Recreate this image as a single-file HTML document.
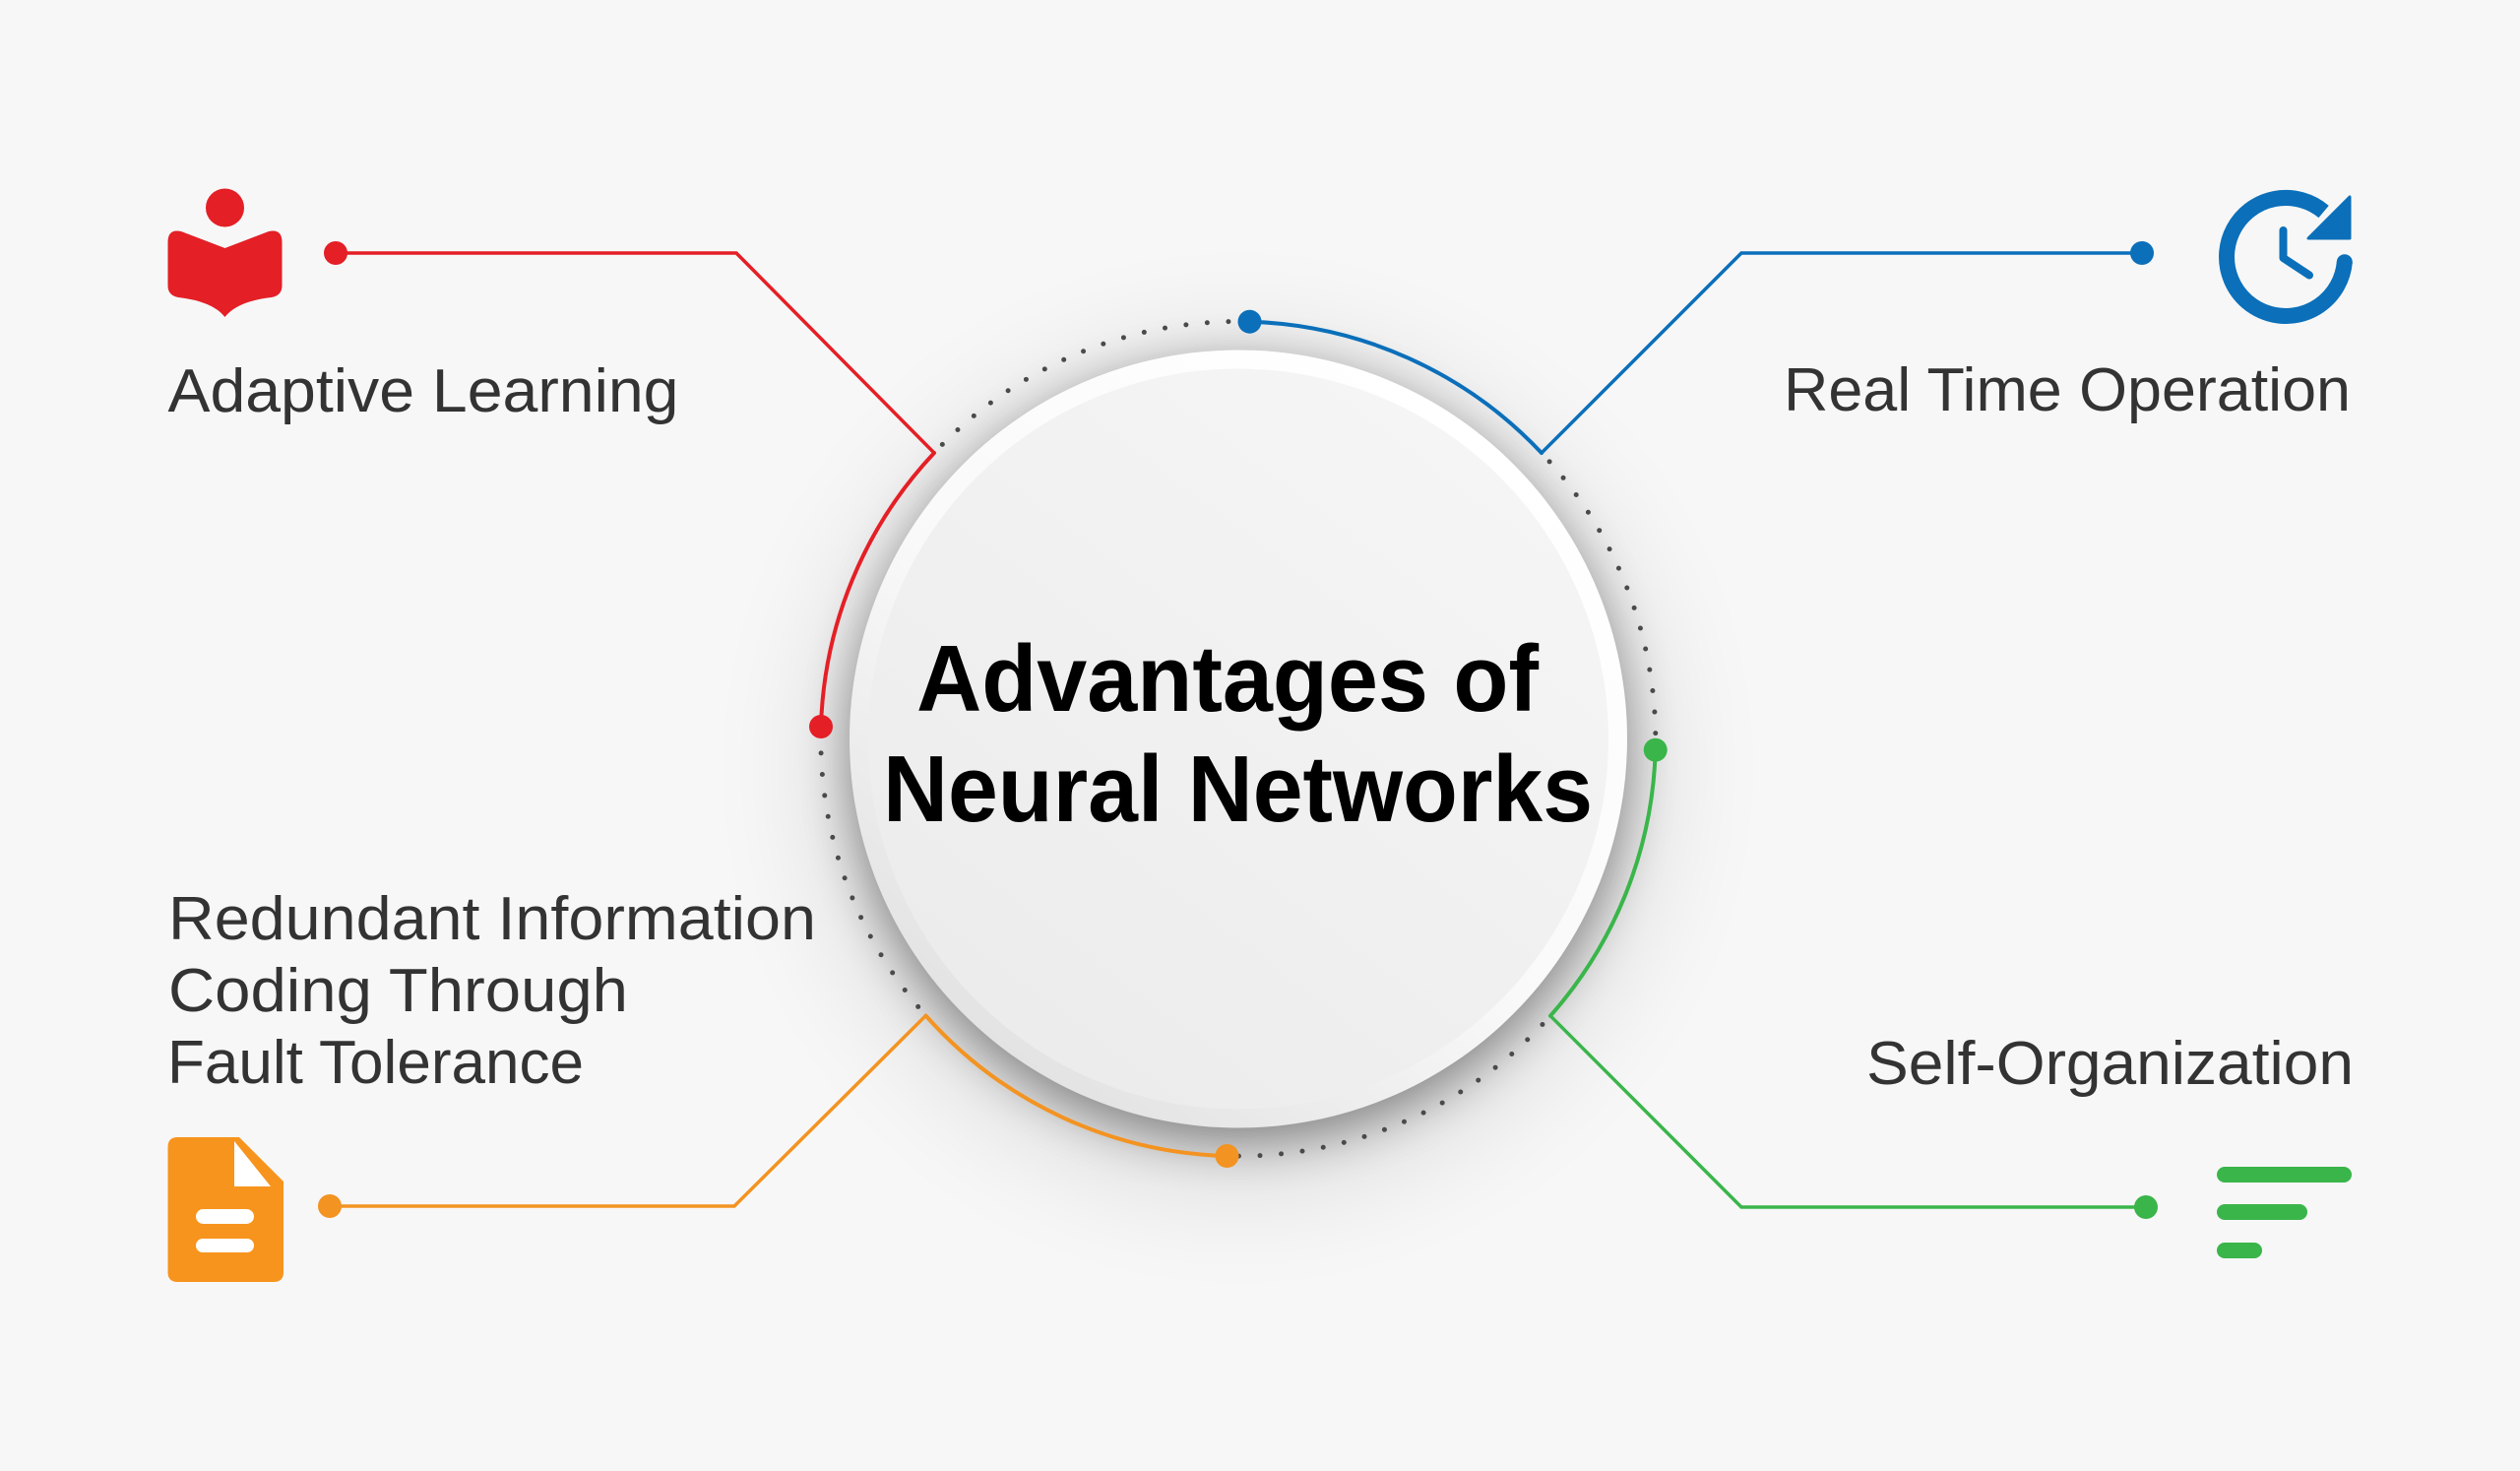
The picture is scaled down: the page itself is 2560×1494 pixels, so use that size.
<!DOCTYPE html>
<html>
<head>
<meta charset="utf-8">
<style>
  html, body { margin:0; padding:0; background:#f7f7f7; }
  body { width:2560px; height:1494px; overflow:hidden; }
  svg { display:block; }
  .lbl { font-family:"Liberation Sans", sans-serif; font-size:62px; fill:#333333; }
  .ttl { font-family:"Liberation Sans", sans-serif; font-size:96px; font-weight:bold; fill:#000000; }
</style>
</head>
<body>
<svg width="2560" height="1494" viewBox="0 0 2560 1494" xmlns="http://www.w3.org/2000/svg">
  <defs>
    <filter id="blurWide" x="-60%" y="-60%" width="220%" height="220%">
      <feGaussianBlur stdDeviation="60"/>
    </filter>
    <filter id="blurTight" x="-40%" y="-40%" width="180%" height="180%">
      <feGaussianBlur stdDeviation="25"/>
    </filter>
    <linearGradient id="rim" x1="0.8" y1="0.1" x2="0.2" y2="0.9">
      <stop offset="0" stop-color="#ffffff"/>
      <stop offset="0.55" stop-color="#f9f9f9"/>
      <stop offset="1" stop-color="#e3e3e3"/>
    </linearGradient>
    <linearGradient id="face" x1="0.8" y1="0.1" x2="0.2" y2="0.9">
      <stop offset="0" stop-color="#f5f5f5"/>
      <stop offset="1" stop-color="#ececec"/>
    </linearGradient>
  </defs>

  <rect x="0" y="0" width="2560" height="1494" fill="#f7f7f7"/>

  <!-- shadows -->
  <circle cx="1258" cy="780" r="420" fill="#000" opacity="0.12" filter="url(#blurWide)"/>
  <circle cx="1258" cy="765.5" r="395" fill="#000" opacity="0.40" filter="url(#blurTight)"/>

  <!-- central disc -->
  <circle cx="1258" cy="750.5" r="395" fill="url(#rim)"/>
  <circle cx="1258" cy="750.5" r="376" fill="url(#face)"/>

  <!-- dotted ring segments -->
  <g fill="none" stroke="#4a4a4a" stroke-width="5" stroke-linecap="round" stroke-dasharray="0 21.6" stroke-dashoffset="-12">
    <path d="M 949 460 A 424 424 0 0 1 1269.5 326.7"/>
    <path d="M 1566 460 A 424 424 0 0 1 1681.7 761.7"/>
    <path d="M 1575 1031.7 A 424 424 0 0 1 1246.5 1174"/>
    <path d="M 940.5 1031.5 A 424 424 0 0 1 834 738"/>
  </g>

  <!-- colored arcs -->
  <g fill="none" stroke-width="4" stroke-linecap="round">
    <path d="M 834 738 A 424 424 0 0 1 949 460" stroke="#e41f26"/>
    <path d="M 1269.5 326.7 A 424 424 0 0 1 1566 460" stroke="#0b6fba"/>
    <path d="M 1681.7 761.7 A 424 424 0 0 1 1575 1031.7" stroke="#3ab54a"/>
    <path d="M 1246.5 1174 A 424 424 0 0 1 940.5 1031.5" stroke="#f39321"/>
  </g>

  <!-- connector lines -->
  <g fill="none" stroke-width="3.5" stroke-linejoin="miter">
    <path d="M 341 257 H 748 L 949 460" stroke="#e41f26"/>
    <path d="M 2176 257 H 1769 L 1566 460" stroke="#0b6fba"/>
    <path d="M 335 1225 H 746 L 940.5 1031.5" stroke="#f39321"/>
    <path d="M 2180 1226 H 1769 L 1575 1031.7" stroke="#3ab54a"/>
  </g>

  <!-- connector dots -->
  <circle cx="341" cy="257" r="12" fill="#e41f26"/>
  <circle cx="834" cy="738" r="12" fill="#e41f26"/>
  <circle cx="2176" cy="257" r="12" fill="#0b6fba"/>
  <circle cx="1269.5" cy="326.7" r="12" fill="#0b6fba"/>
  <circle cx="335" cy="1225" r="12" fill="#f39321"/>
  <circle cx="1246.5" cy="1174" r="12" fill="#f39321"/>
  <circle cx="2180" cy="1226" r="12" fill="#3ab54a"/>
  <circle cx="1681.7" cy="761.7" r="12" fill="#3ab54a"/>

  <!-- Red reader icon -->
  <g fill="#e41f26">
    <circle cx="228.5" cy="211" r="19.5"/>
    <path d="M 170.5 246 Q 170.5 232 184 235 L 228.5 252 L 273 235 Q 286.5 232 286.5 246 L 286.5 290 Q 286.5 300 276 302 Q 241 306 228.5 322 Q 216 306 181 302 Q 170.5 300 170.5 290 Z"/>
  </g>

  <!-- Blue clock icon -->
  <g fill="none" stroke="#0b6fba">
    <path d="M 2381.8 266.2 A 60 60 0 1 1 2360.6 215" stroke-width="16" stroke-linecap="butt"/>
    <circle cx="2381.8" cy="266.2" r="8" fill="#0b6fba" stroke="none"/>
    <polyline points="2319.5,234 2319.5,262 2346,279.5" stroke-width="8" stroke-linecap="round" stroke-linejoin="round"/>
    <polygon points="2387,200 2387,242 2345,242" fill="#0b6fba" stroke-width="3" stroke-linejoin="round"/>
  </g>

  <!-- Orange document icon -->
  <path d="M 180.5 1155 L 243 1155 L 288 1200 L 288 1292 Q 288 1302 278 1302 L 180.5 1302 Q 170.5 1302 170.5 1292 L 170.5 1165 Q 170.5 1155 180.5 1155 Z" fill="#f7941d"/>
  <polygon points="238,1159 238,1205 275,1205" fill="#ffffff"/>
  <rect x="199" y="1228" width="59" height="15" rx="7.5" fill="#ffffff"/>
  <rect x="199" y="1258" width="59" height="14" rx="7" fill="#ffffff"/>

  <!-- Green bars icon -->
  <g fill="#3ab54a">
    <rect x="2252" y="1185" width="137" height="16" rx="8"/>
    <rect x="2252" y="1223" width="92" height="16" rx="8"/>
    <rect x="2252" y="1262" width="46" height="16" rx="8"/>
  </g>

  <!-- Labels -->
  <text class="lbl" x="170.5" y="418" textLength="519" lengthAdjust="spacingAndGlyphs">Adaptive Learning</text>
  <text class="lbl" x="1812" y="417" textLength="576" lengthAdjust="spacingAndGlyphs">Real Time Operation</text>
  <text class="lbl" x="171" y="954" textLength="658" lengthAdjust="spacingAndGlyphs">Redundant Information</text>
  <text class="lbl" x="171" y="1027" textLength="467" lengthAdjust="spacingAndGlyphs">Coding Through</text>
  <text class="lbl" x="170" y="1100" textLength="423" lengthAdjust="spacingAndGlyphs">Fault Tolerance</text>
  <text class="lbl" x="1896" y="1101" textLength="495" lengthAdjust="spacingAndGlyphs">Self-Organization</text>

  <!-- Title -->
  <text class="ttl" x="931" y="722" textLength="632" lengthAdjust="spacingAndGlyphs">Advantages of</text>
  <text class="ttl" x="897" y="834" textLength="721" lengthAdjust="spacingAndGlyphs">Neural Networks</text>
</svg>
</body>
</html>
